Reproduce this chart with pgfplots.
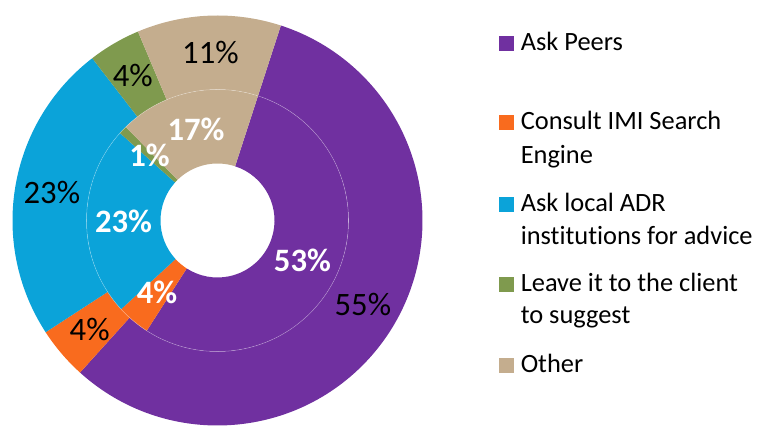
\documentclass[border=0pt]{standalone}
\usepackage{pgfplots}
\pgfplotsset{compat=1.18}
\usepackage{pgfplotstable}
\usetikzlibrary{calc}
\usepackage{fontspec}
\setmainfont{Carlito}[Ligatures={NoCommon}]

\definecolor{c0}{HTML}{7030A0}
\definecolor{c1}{HTML}{F96B1E}
\definecolor{c2}{HTML}{0BA3D9}
\definecolor{c3}{HTML}{7F9A4E}
\definecolor{c4}{HTML}{C4AD8E}

% outer ring and inner ring values (percent labels)
\pgfplotstableread{
id outer inner
0  55    53
1  4     4
2  23    23
3  4     1
4  11    17
}\donutdata

\tikzset{outerlab/.style={font=\fontsize{24.5}{28}\selectfont, text=black},
         innerlab/.style={font=\fontsize{24.5}{28}\selectfont\bfseries, text=white}}

% sum of a column
\newcommand\ringsum[1]{%
  \gdef\tot{0}%
  \pgfplotstableforeachcolumnelement{#1}\of\donutdata\as\v{%
    \pgfmathsetmacro\tmp{\tot+\v}\xdef\tot{\tmp}}%
}
% #1 column, #2 inner radius, #3 outer radius
\newcommand\drawring[3]{%
  \ringsum{#1}%
  \gdef\cum{0}%
  \pgfplotstableforeachcolumnelement{#1}\of\donutdata\as\v{%
    \pgfmathsetmacro\aA{72-(\cum/\tot)*360}%
    \pgfmathsetmacro\tmp{\cum+\v}\xdef\cum{\tmp}%
    \pgfmathsetmacro\aB{72-(\cum/\tot)*360}%
    \fill[color=c\pgfplotstablerow] ($(O)+(\aA:#2)$) arc[start angle=\aA, end angle=\aB, radius=#2]
      -- ($(O)+(\aB:#3)$) arc[start angle=\aB, end angle=\aA, radius=#3] -- cycle;
  }%
}
% #1 column, #2 label radius, #3 label style
\newcommand\labelring[3]{%
  \ringsum{#1}%
  \gdef\cum{0}%
  \pgfplotstableforeachcolumnelement{#1}\of\donutdata\as\v{%
    \pgfmathsetmacro\aA{72-(\cum/\tot)*360}%
    \pgfmathsetmacro\tmp{\cum+\v}\xdef\cum{\tmp}%
    \pgfmathsetmacro\aB{72-(\cum/\tot)*360}%
    \pgfmathsetmacro\aM{(\aA+\aB)/2}%
    \path ($(O)+(\aM:#2)$) node[#3] {\v\%};
  }%
}

\begin{document}
\begin{tikzpicture}
\begin{axis}[
  x=0.75pt, y=0.75pt,
  xmin=0, xmax=760, ymin=0, ymax=427,
  hide axis, clip=false,
  scale only axis,
]
\coordinate (BL) at (axis cs:0,0);
\coordinate (TR) at (axis cs:760,427);
\coordinate (O) at (axis cs:217.5,206.5);
\pgfplotsextra{%
  \drawring{outer}{98.25pt}{153.75pt}%
  \drawring{inner}{42.75pt}{98.25pt}%
  \draw[white, opacity=0.35, line width=0.4pt] (O) circle[radius=98.25pt];
  \labelring{outer}{126pt}{outerlab}%
  \labelring{inner}{70.5pt}{innerlab}%
}
% legend
\fill[c0] (axis cs:499,376.3) rectangle (axis cs:514,391.0);
\fill[c1] (axis cs:499,297.0) rectangle (axis cs:514,311.7);
\fill[c2] (axis cs:499,215.3) rectangle (axis cs:514,230.0);
\fill[c3] (axis cs:499,135.3) rectangle (axis cs:514,150.0);
\fill[c4] (axis cs:499,54.3) rectangle (axis cs:514,69.0);
\begin{scope}[every node/.style={anchor=base west, inner sep=0pt, font=\fontsize{19.8}{24}\selectfont}]
\node at (axis cs:520.5,376.3) {Ask Peers};
\node at (axis cs:520.5,297.0) {Consult IMI Search};
\node at (axis cs:520.5,263.7) {Engine};
\node at (axis cs:520.5,215.3) {Ask local ADR};
\node at (axis cs:520.5,182.7) {institutions for advice};
\node at (axis cs:520.5,135.3) {Leave it to the client};
\node at (axis cs:520.5,103.0) {to suggest};
\node at (axis cs:520.5,54.3) {Other};
\end{scope}
\end{axis}
\pgfresetboundingbox
\useasboundingbox (BL) rectangle (TR);
\end{tikzpicture}
\end{document}
